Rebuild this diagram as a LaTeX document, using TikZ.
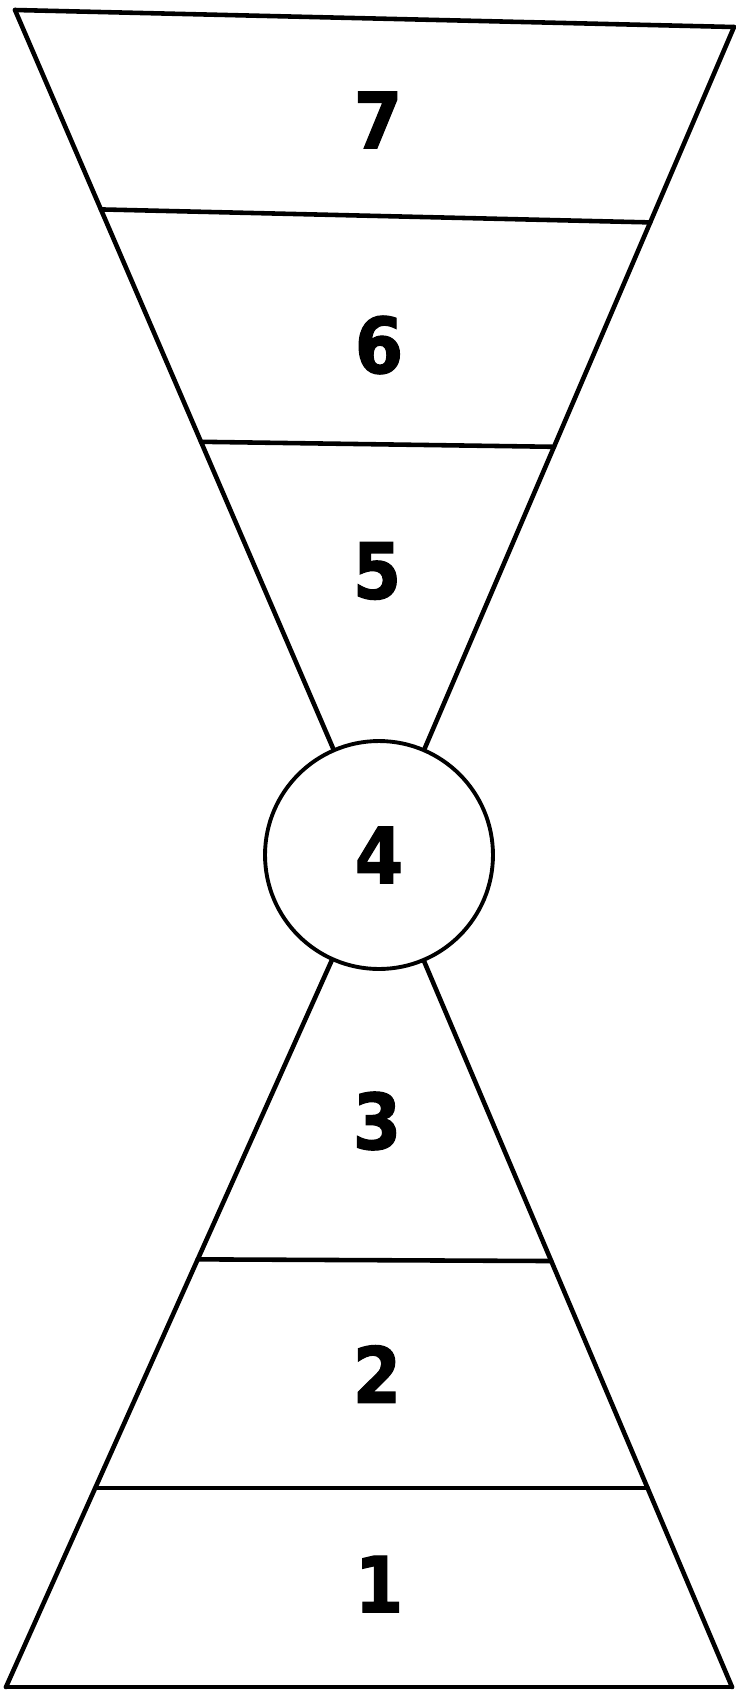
\documentclass[tikz,border=0pt]{standalone}
\usepackage{fontspec}
\newfontfamily\numfont{DejaVu Sans Condensed Bold}[FakeBold=1.5]
\usepackage{tikz}
\usetikzlibrary{calc}

\begin{document}
\begin{tikzpicture}[x=0.02cm, y=-0.02cm,
    edge/.style={line width=2.6pt, line cap=round, line join=round},
    numlbl/.style={font=\numfont\fontsize{44}{44}\selectfont, inner sep=0pt}]
    \useasboundingbox (0,0) rectangle (735,1691);
    % centre circle
    \node[draw, circle, line width=2.2pt, inner sep=0pt, minimum size=4.56cm,
          numlbl] (n4) at (379,855) {4};
    % outer corners
    \coordinate (tl) at (15,10);
    \coordinate (tr) at (734,27);
    \coordinate (bl) at (6,1687);
    \coordinate (br) at (732,1687);
    % upper funnel
    \draw[edge] (tl) -- (tr);
    \draw[edge] (tl) -- (n4);
    \draw[edge] (tr) -- (n4);
    \draw[edge] ($(tl)!0.236!(n4.center)$) -- ($(tr)!0.236!(n4.center)$);
    \draw[edge] ($(tl)!0.511!(n4.center)$) -- ($(tr)!0.507!(n4.center)$);
    % lower funnel
    \draw[edge] (bl) -- (br);
    \draw[edge] (bl) -- (n4);
    \draw[edge] (br) -- (n4);
    \draw[edge] ($(bl)!0.239!(n4.center)$) -- ($(br)!0.239!(n4.center)$);
    \draw[edge] ($(bl)!0.514!(n4.center)$) -- ($(br)!0.512!(n4.center)$);
    % Labels
    \node[numlbl] (n7) at (378,120) {7};
    \node[numlbl] (n6) at (379,345) {6};
    \node[numlbl] (n5) at (377,571) {5};
    \node[numlbl] (n3) at (377,1121) {3};
    \node[numlbl] (n2) at (377,1374) {2};
    \node[numlbl] (n1) at (379,1584) {1};
\end{tikzpicture}
\end{document}
